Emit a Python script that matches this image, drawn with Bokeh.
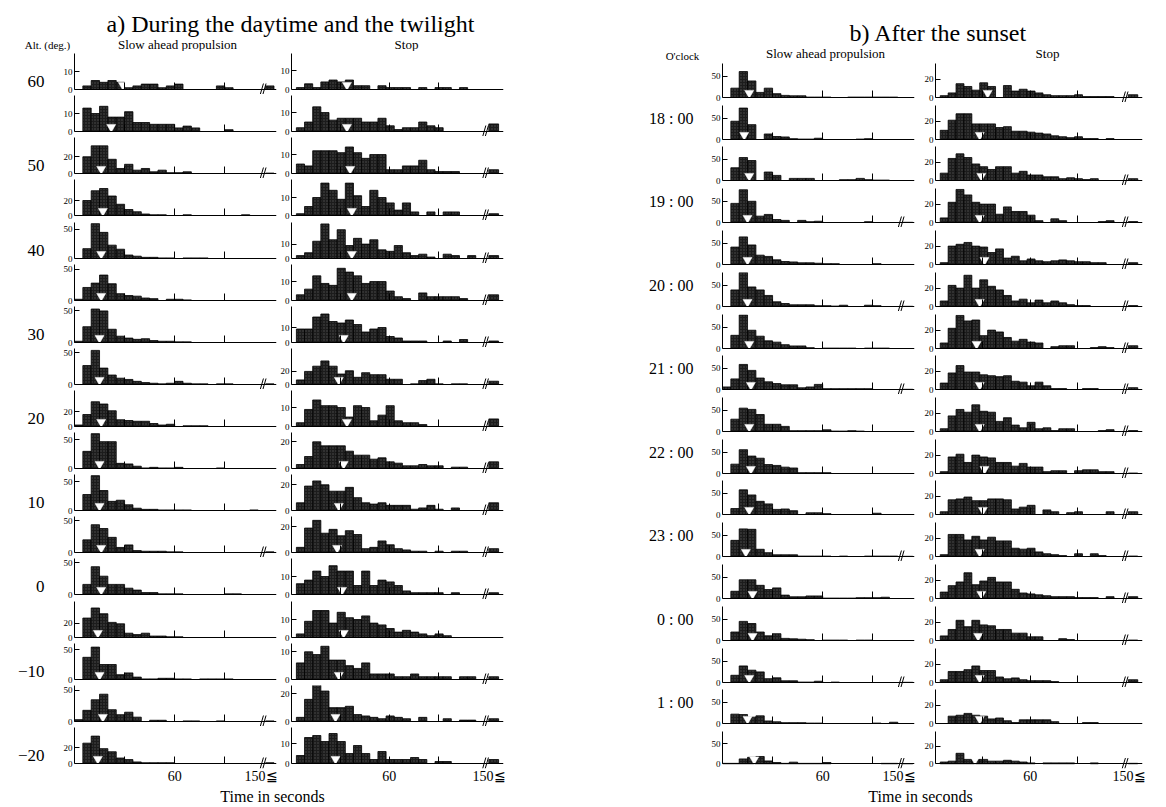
from bokeh.plotting import figure
from bokeh.layouts import row, column
from bokeh.models import Range1d, FixedTicker, LinearAxis
from bokeh.core.properties import value
from bokeh.embed import file_html
from bokeh.resources import INLINE

# ---------------------------------------------------------------- data
title_a = "a) During the daytime and the twilight"
title_b = "b) After the sunset"
col_titles = ["Slow ahead propulsion", "Stop"]
row_title_a = "Alt. (deg.)"
row_title_b = "O'clock"
x_title = "Time in seconds"

alt_labels = ["60", "", "50", "", "40", "", "30", "", "20", "", "10", "", "0", "", "\u221210", "", "\u221220"]
clock_labels = ["", "18 : 00", "", "19 : 00", "", "20 : 00", "", "21 : 00", "", "22 : 00", "",
                "23 : 00", "", "0 : 00", "", "1 : 00", ""]

time_ticks = [30, 60, 90]
bin_width = 5          # seconds per class
over_label = "150\u2266"

# a) slow ahead propulsion : counts per 5 s class starting at 0 s
a_slow_counts = [
    [0, 2, 5, 4, 5, 4, 1, 2, 3, 3, 1, 2, 3, 0, 0, 0, 0, 2, 1, 0, 0, 0],
    [0, 13, 10, 14, 8, 8, 11, 5, 5, 4, 4, 4, 2, 3, 2, 0, 0, 0, 1, 0, 0, 0],
    [0, 20, 33, 33, 17, 6, 11, 4, 6, 2, 4, 1, 1, 2, 0, 0, 0, 0, 0, 0, 0, 0],
    [0, 20, 33, 36, 26, 15, 8, 5, 2, 1, 1, 0, 0, 1, 0, 0, 0, 0, 0, 0, 1, 0],
    [0, 17, 60, 45, 23, 16, 6, 4, 2, 2, 1, 1, 0, 1, 1, 1, 0, 0, 0, 0, 0, 0],
    [2, 21, 28, 41, 27, 11, 8, 7, 4, 3, 0, 2, 2, 1, 0, 0, 0, 0, 0, 0, 0, 0],
    [2, 25, 53, 50, 21, 10, 7, 5, 6, 3, 2, 2, 1, 1, 0, 0, 0, 0, 0, 0, 0, 0],
    [0, 30, 54, 26, 15, 10, 8, 5, 3, 2, 1, 2, 5, 2, 1, 1, 0, 1, 1, 0, 0, 0],
    [2, 16, 33, 30, 21, 9, 8, 7, 7, 4, 2, 3, 0, 1, 1, 1, 0, 0, 0, 0, 0, 0],
    [0, 30, 61, 47, 47, 9, 8, 4, 1, 2, 1, 1, 2, 0, 0, 0, 0, 1, 0, 0, 0, 0],
    [0, 28, 61, 35, 16, 18, 10, 4, 2, 2, 1, 1, 1, 1, 0, 0, 0, 0, 0, 0, 0, 1],
    [0, 20, 44, 38, 24, 8, 12, 3, 2, 2, 2, 1, 1, 0, 0, 0, 0, 0, 0, 0, 0, 0],
    [0, 16, 44, 29, 16, 16, 10, 7, 3, 3, 1, 1, 1, 0, 0, 0, 0, 0, 1, 1, 0, 0],
    [0, 27, 41, 33, 21, 19, 6, 4, 6, 2, 2, 1, 1, 0, 0, 0, 0, 0, 0, 0, 0, 0],
    [0, 37, 54, 25, 25, 8, 11, 4, 1, 1, 2, 2, 1, 1, 0, 1, 1, 1, 1, 0, 0, 0],
    [3, 18, 35, 44, 19, 11, 15, 7, 0, 2, 2, 0, 0, 1, 1, 0, 0, 1, 0, 0, 0, 0],
    [0, 26, 35, 19, 15, 7, 5, 2, 1, 1, 1, 1, 0, 0, 0, 0, 0, 0, 0, 0, 0, 0],
]
a_slow_over = [2, 0, 0.5, 0, 0, 0, 0, 1, 0, 0, 0, 1, 0, 0, 0, 1, 1]
a_slow_median = [29, 22, 16, 17, 16, 16, 15, 15, 16, 15, 15, 16, 16, 14, 15, 17, 14]
a_slow_ytick = [10, 10, 20, 20, 50, 50, 50, 50, 20, 50, 50, 50, 50, 20, 50, 50, 20]
a_slow_ymax = [20, 20, 43, 48, 62, 58, 57, 57, 48, 63, 63, 57, 57, 50, 60, 58, 46]

# a) stop : counts per 5 s class starting at 3 s
a_stop_counts = [
    [1, 3, 1, 4, 5, 4, 5, 2, 2, 0, 2, 1, 1, 1, 0, 1, 0, 1, 1, 0, 1, 0, 0],
    [2, 5, 13, 10, 6, 7, 7, 7, 5, 5, 7, 3, 1, 2, 2, 5, 3, 2, 0, 0, 0, 0, 0],
    [5, 4, 12, 12, 12, 11, 14, 11, 8, 10, 10, 2, 2, 4, 4, 7, 2, 1, 1, 1, 0, 0, 0],
    [1, 5, 10, 18, 14, 9, 18, 11, 5, 14, 10, 7, 3, 7, 2, 0, 2, 0, 2, 2, 0, 0, 0],
    [2, 4, 12, 24, 13, 20, 9, 14, 10, 13, 6, 5, 9, 4, 2, 3, 1, 0, 3, 2, 0, 2, 0],
    [3, 6, 13, 9, 8, 17, 15, 13, 9, 10, 10, 5, 2, 1, 0, 4, 2, 2, 2, 2, 1, 0, 0],
    [9, 9, 17, 19, 14, 13, 15, 12, 7, 9, 10, 4, 3, 1, 1, 1, 0, 0, 1, 0, 2, 0, 0],
    [7, 20, 28, 36, 28, 16, 21, 11, 18, 15, 15, 8, 8, 0, 1, 6, 8, 1, 0, 1, 1, 0, 0],
    [2, 9, 14, 11, 11, 10, 5, 11, 10, 3, 6, 11, 3, 2, 2, 1, 0, 0, 0, 0, 0, 0, 0],
    [3, 9, 20, 17, 17, 17, 13, 10, 10, 7, 8, 5, 4, 2, 2, 3, 2, 2, 0, 1, 1, 0, 0],
    [6, 19, 23, 20, 15, 15, 18, 10, 6, 5, 6, 4, 4, 4, 1, 2, 4, 1, 0, 2, 0, 0, 0],
    [4, 19, 25, 15, 18, 13, 17, 14, 3, 4, 9, 6, 3, 2, 1, 1, 0, 1, 0, 1, 1, 0, 0],
    [6, 8, 13, 10, 16, 13, 13, 5, 13, 5, 8, 7, 5, 2, 1, 1, 1, 1, 0, 1, 0, 0, 0],
    [2, 9, 15, 15, 8, 14, 11, 10, 12, 8, 7, 5, 3, 4, 3, 2, 1, 2, 1, 0, 0, 0, 0],
    [6, 10, 9, 12, 7, 7, 5, 4, 6, 2, 2, 2, 1, 1, 2, 1, 1, 1, 1, 0, 1, 1, 0],
    [3, 16, 28, 22, 10, 10, 11, 5, 4, 3, 2, 4, 3, 2, 0, 3, 0, 0, 2, 0, 1, 1, 0],
    [4, 13, 14, 11, 15, 11, 5, 9, 5, 2, 6, 2, 2, 2, 3, 2, 0, 1, 1, 0, 0, 0, 0],
]
a_stop_over = [0, 4, 2, 1, 2, 3, 1, 5, 4, 5, 6, 3, 1, 0, 1, 2, 2]
a_stop_median = [34, 34, 36, 37, 37, 37, 32, 29, 34, 32, 29, 28, 31, 32, 29, 27, 27]
a_stop_ytick = [10, 10, 10, 10, 10, 10, 10, 20, 10, 20, 20, 20, 10, 10, 10, 20, 10]
a_stop_ymax = [19, 19, 19, 20, 25, 19, 24, 55, 19, 27, 28, 28, 20, 20, 13, 26, 18]

# b) slow ahead propulsion : counts per 5 s class starting at 0 s
b_slow_counts = [
    [0, 22, 61, 39, 12, 22, 9, 5, 4, 4, 1, 1, 1, 0, 0, 1, 1, 1, 1, 1, 1],
    [0, 43, 74, 35, 0, 13, 7, 6, 2, 1, 1, 3, 0, 0, 0, 0, 1, 2, 0, 0, 0],
    [0, 30, 54, 47, 0, 20, 12, 0, 5, 5, 5, 0, 0, 0, 2, 2, 5, 2, 1, 1, 0],
    [0, 45, 77, 50, 15, 19, 7, 5, 0, 5, 2, 3, 0, 0, 0, 0, 0, 2, 0, 0, 0],
    [0, 41, 65, 46, 22, 19, 11, 7, 6, 4, 4, 3, 2, 2, 0, 0, 0, 0, 2, 0, 0],
    [0, 39, 80, 46, 39, 26, 11, 7, 4, 4, 4, 2, 2, 1, 3, 0, 0, 3, 2, 0, 0],
    [0, 31, 79, 43, 29, 18, 15, 9, 6, 6, 2, 0, 1, 1, 1, 1, 0, 1, 1, 1, 0],
    [6, 25, 59, 45, 27, 18, 14, 11, 11, 4, 6, 12, 2, 2, 2, 2, 2, 2, 0, 0, 0],
    [0, 29, 55, 52, 40, 17, 17, 12, 2, 2, 2, 2, 4, 1, 1, 2, 1, 0, 0, 0, 0],
    [0, 22, 56, 41, 36, 21, 19, 15, 13, 2, 2, 2, 2, 0, 0, 0, 0, 0, 0, 0, 0],
    [0, 14, 58, 46, 31, 25, 12, 13, 9, 0, 4, 4, 2, 0, 0, 0, 0, 0, 3, 0, 0],
    [0, 38, 65, 64, 17, 9, 4, 4, 4, 1, 1, 1, 1, 0, 1, 0, 0, 1, 1, 1, 1],
    [0, 17, 44, 44, 31, 21, 25, 8, 4, 4, 6, 6, 1, 1, 1, 1, 2, 2, 2, 3, 0],
    [0, 20, 45, 40, 20, 11, 16, 5, 4, 3, 2, 0, 1, 1, 1, 0, 1, 1, 0, 0, 0],
    [0, 17, 39, 29, 25, 9, 11, 4, 4, 1, 1, 3, 0, 1, 0, 0, 0, 0, 0, 0, 0],
    [0, 22, 21, 15, 18, 6, 4, 2, 2, 2, 1, 1, 0, 0, 0, 0, 0, 0, 1, 0, 3],
    [1, 1, 12, 16, 18, 7, 3, 1, 4, 1, 1, 1, 3, 0, 0, 0, 0, 0, 0, 1, 1],
]
b_slow_over = [0, 0, 0, 0.5, 0, 0.5, 0, 0.5, 0, 0, 0, 0.5, 0, 0, 0.5, 0, 0.5]
b_slow_median = [16, 13, 16, 15, 15, 15, 16, 17, 16, 17, 16, 14, 18, 18, 16, 15, 19]
b_slow_ytick = [50] * 17
b_slow_ymax = [80] * 17

# b) stop : counts per 5 s class starting at 3 s
b_stop_counts = [
    [2, 5, 15, 12, 8, 16, 12, 0, 13, 7, 9, 7, 5, 3, 2, 2, 2, 3, 1, 1, 1, 1, 0],
    [10, 21, 28, 28, 17, 17, 17, 13, 14, 9, 9, 8, 7, 6, 4, 3, 2, 3, 1, 1, 0, 1, 0],
    [8, 24, 29, 25, 18, 15, 12, 15, 15, 8, 10, 6, 6, 4, 4, 2, 3, 2, 1, 2, 0, 0, 0],
    [5, 22, 36, 30, 22, 20, 20, 9, 17, 12, 12, 8, 2, 0, 4, 2, 0, 0, 0, 0, 1, 2, 0],
    [2, 20, 22, 24, 20, 19, 13, 17, 7, 9, 4, 6, 4, 3, 4, 5, 4, 3, 3, 2, 2, 0, 0],
    [6, 23, 20, 34, 20, 29, 22, 18, 12, 6, 8, 4, 7, 4, 6, 4, 2, 1, 1, 0, 0, 0, 0],
    [6, 22, 36, 30, 31, 14, 20, 18, 12, 8, 10, 7, 6, 0, 2, 3, 3, 0, 0, 1, 2, 1, 0],
    [7, 18, 26, 19, 19, 16, 15, 14, 15, 9, 8, 4, 8, 4, 1, 1, 0, 0, 1, 1, 0, 0, 0],
    [3, 17, 24, 21, 29, 22, 21, 11, 15, 7, 4, 10, 3, 4, 1, 3, 3, 0, 0, 0, 1, 2, 0],
    [2, 18, 21, 12, 20, 18, 17, 12, 12, 8, 11, 7, 7, 2, 3, 3, 0, 3, 4, 4, 2, 2, 0],
    [3, 16, 17, 19, 15, 15, 17, 17, 16, 6, 8, 10, 0, 5, 3, 0, 2, 3, 0, 0, 0, 3, 0],
    [2, 24, 24, 18, 22, 18, 21, 17, 17, 9, 8, 9, 5, 3, 2, 1, 0, 3, 0, 3, 1, 0, 0],
    [7, 14, 18, 28, 15, 19, 23, 18, 18, 10, 6, 5, 4, 3, 2, 2, 2, 1, 1, 1, 0, 2, 0],
    [5, 12, 22, 15, 22, 17, 16, 12, 12, 8, 8, 4, 4, 0, 0, 2, 1, 0, 0, 0, 0, 0, 0],
    [3, 12, 12, 14, 18, 13, 13, 6, 4, 5, 3, 2, 2, 2, 1, 0, 0, 0, 0, 0, 0, 0, 0],
    [0, 8, 9, 11, 9, 8, 5, 6, 3, 1, 4, 4, 4, 4, 2, 0, 0, 0, 1, 1, 0, 0, 0],
    [2, 3, 12, 5, 5, 5, 3, 3, 4, 3, 2, 1, 0, 1, 1, 1, 1, 0, 0, 1, 0, 0, 0],
]
b_stop_over = [3, 0, 2, 1, 2, 1, 3, 2, 1, 0.5, 3, 0.5, 2, 0.5, 3, 0, 0.5]
b_stop_median = [33, 28, 29, 28, 31, 28, 26, 28, 28, 31, 30, 28, 29, 27, 28, 28, 25]
b_stop_ytick = [20] * 17
b_stop_ymax = [37] * 17

# ---------------------------------------------------------------- style / layout
SERIF = "Liberation Serif"
BAR_FILL = "#1c1c1c"
EXT = 5     # px of frame kept below the base line (room for the axis break)

# per column: first class start, x extent, axis break, overflow bar, px per second, borders
COLS = {
    "a_slow": dict(start=0, x_end=121, brk=113, ovf=(114.5, 119.5), lab=117, px=1.67, bl=74, br=1),
    "a_stop": dict(start=3, x_end=130, brk=119, ovf=(121, 127), lab=124, px=1.65, bl=12, br=2),
    "b_slow": dict(start=0, x_end=115, brk=107, ovf=(108, 114), lab=111, px=1.67, bl=217, br=1),
    "b_stop": dict(start=3, x_end=131, brk=120, ovf=(122, 128), lab=125, px=1.58, bl=20, br=3),
}


def frame_w(key):
    c = COLS[key]
    return int(round(c["x_end"] * c["px"]))


def fig_w(key):
    c = COLS[key]
    return c["bl"] + frame_w(key) + c["br"]


def hist(key, counts, over, med, ymax, ytick, height, fh, last, bottom, label=None,
         label_dy=0, label_size="16px", label_standoff=16):
    c = COLS[key]
    top = height - fh - EXT - bottom
    d = ymax * EXT / fh
    p = figure(width=fig_w(key), height=height,
               x_range=Range1d(0, c["x_end"]), y_range=Range1d(-d, ymax),
               output_backend="svg", toolbar_location=None,
               min_border_left=c["bl"], min_border_right=c["br"],
               min_border_top=top, min_border_bottom=bottom)
    p.outline_line_color = None
    p.xgrid.visible = False
    p.ygrid.visible = False

    lefts, rights, tops = [], [], []
    for i, v in enumerate(counts):
        if v > 0:
            lefts.append(c["start"] + bin_width * i)
            rights.append(c["start"] + bin_width * (i + 1))
            tops.append(v)
    if over > 0:
        lefts.append(c["ovf"][0])
        rights.append(c["ovf"][1])
        tops.append(over)
    p.quad(left=lefts, right=rights, bottom=0, top=tops,
           fill_color=BAR_FILL, line_color="black", line_width=0.8,
           hatch_pattern="dot", hatch_color="#8c8c8c", hatch_alpha=0.45,
           hatch_scale=3, hatch_weight=0.8)

    # median marker (white wedge standing on the base line)
    p.scatter(x=[med], y=[ymax * 4.5 / fh], marker="inverted_triangle", size=9,
              fill_color="white", line_color="white", line_width=0.5)

    # axis break "//"
    if over > 0:
        ux = 1.0 / c["px"]
        uy = ymax / fh
        xs0, ys0, xs1, ys1 = [], [], [], []
        for k in (-1.3, 1.3):
            xs0.append(c["brk"] + (k - 1.6) * ux)
            ys0.append(-5 * uy)
            xs1.append(c["brk"] + (k + 1.6) * ux)
            ys1.append(6 * uy)
        p.segment(x0=xs0, y0=ys0, x1=xs1, y1=ys1, line_color="black", line_width=1)

    # y axis
    yax = p.yaxis[0]
    yax.ticker = FixedTicker(ticks=[0, ytick])
    yax.bounds = (0, ymax)
    yax.major_tick_in = 5
    yax.major_tick_out = 0
    yax.minor_tick_in = 0
    yax.minor_tick_out = 0
    yax.major_label_text_font = SERIF
    yax.major_label_text_font_size = "9px"
    yax.major_label_text_color = "black"
    yax.major_label_standoff = 2
    yax.axis_line_color = "black"

    # x axis on the base line; 30/60/90 s marks as inward minor ticks
    xax = p.xaxis[0]
    xax.fixed_location = 0
    xax.axis_line_color = "black"
    xax.major_tick_in = 0
    xax.major_tick_out = 0
    xax.minor_tick_in = 7
    xax.minor_tick_out = 0
    xax.minor_tick_line_color = "black"
    xax.ticker = FixedTicker(ticks=[], minor_ticks=time_ticks)
    if last:
        # separate line-less axis below the frame carrying the time labels
        tax = LinearAxis(ticker=FixedTicker(ticks=[60, c["lab"]]),
                         major_label_overrides={c["lab"]: over_label},
                         axis_line_color=None, major_tick_line_color=None,
                         minor_tick_line_color=None, major_tick_in=0, major_tick_out=0,
                         major_label_text_font=SERIF, major_label_text_font_size="14px",
                         major_label_text_color="black", major_label_standoff=0)
        p.add_layout(tax, "below")

    # row label as an extra, line-less axis left of the value axis
    if label:
        p.extra_y_ranges = {"lab": Range1d(-EXT, fh)}
        lax = LinearAxis(y_range_name="lab", ticker=FixedTicker(ticks=[label_dy]),
                         major_label_overrides={label_dy: label},
                         axis_line_color=None, major_tick_line_color=None,
                         minor_tick_line_color=None, major_tick_in=0, major_tick_out=0,
                         major_label_text_font=SERIF, major_label_text_font_size=label_size,
                         major_label_text_color="black", major_label_standoff=label_standoff)
        p.add_layout(lax, "left")
    return p


def text_fig(width, height, items):
    p = figure(width=width, height=height, x_range=Range1d(0, width),
               y_range=Range1d(height, 0), x_axis_type=None, y_axis_type=None,
               output_backend="svg", toolbar_location=None, min_border=0)
    p.outline_line_color = None
    for (x, y, txt, size) in items:
        p.text(x=[x], y=[y], text=[txt], text_font=value(SERIF),
               text_font_size=value(size), text_align="center",
               text_baseline="middle", text_color="black")
    return p


def row_heights(first_base, step, n, first_h):
    bases = [round(first_base + step * i) for i in range(n)]
    return [first_h] + [bases[i] - bases[i - 1] for i in range(1, n)]


# ---------------------------------------------------------------- panel a
WA = fig_w("a_slow") + fig_w("a_stop")
FH_A = 36
HEAD_A = 51
ha = row_heights(89, 42.125, 17, 89 - HEAD_A + EXT)
BOT_A = 18
rows_a = []
for i in range(17):
    last = i == 16
    bot = BOT_A if last else 0
    h = ha[i] + bot
    s = hist("a_slow", a_slow_counts[i], a_slow_over[i], a_slow_median[i],
             a_slow_ymax[i], a_slow_ytick[i], h, FH_A, last, bot,
             label=alt_labels[i], label_dy=8, label_size="17px", label_standoff=16)
    t = hist("a_stop", a_stop_counts[i], a_stop_over[i], a_stop_median[i],
             a_stop_ymax[i], a_stop_ytick[i], h, FH_A, last, bot)
    rows_a.append(row(s, t))

head_a = text_fig(WA, HEAD_A, [
    (290, 23, title_a, "24px"),
    (47, 44, row_title_a, "11px"),
    (177, 44, col_titles[0], "13px"),
    (406, 44, col_titles[1], "13px"),
])
foot_a = text_fig(WA, 19, [(272, 10, x_title, "16px")])
panel_a = column(head_a, *rows_a, foot_a)

# ---------------------------------------------------------------- panel b
WB = fig_w("b_slow") + fig_w("b_stop")
FH_B = 34
HEAD_B = 61
hb = row_heights(97, 41.75, 17, 97 - HEAD_B + EXT)
BOT_B = 16
rows_b = []
for i in range(17):
    last = i == 16
    bot = BOT_B if last else 0
    h = hb[i] + bot
    s = hist("b_slow", b_slow_counts[i], b_slow_over[i], b_slow_median[i],
             b_slow_ymax[i], b_slow_ytick[i], h, FH_B, last, bot,
             label=clock_labels[i], label_dy=21, label_size="16px", label_standoff=15)
    t = hist("b_stop", b_stop_counts[i], b_stop_over[i], b_stop_median[i],
             b_stop_ymax[i], b_stop_ytick[i], h, FH_B, last, bot)
    rows_b.append(row(s, t))

head_b = text_fig(WB, HEAD_B, [
    (433, 32, title_b, "24px"),
    (177, 55, row_title_b, "11px"),
    (320, 53, col_titles[0], "13px"),
    (542, 53, col_titles[1], "13px"),
])
foot_b = text_fig(WB, 19, [(415, 10, x_title, "16px")])
panel_b = column(head_b, *rows_b, foot_b)

layout = row(panel_a, panel_b)
open("out.html", "w").write(file_html(layout, INLINE))
